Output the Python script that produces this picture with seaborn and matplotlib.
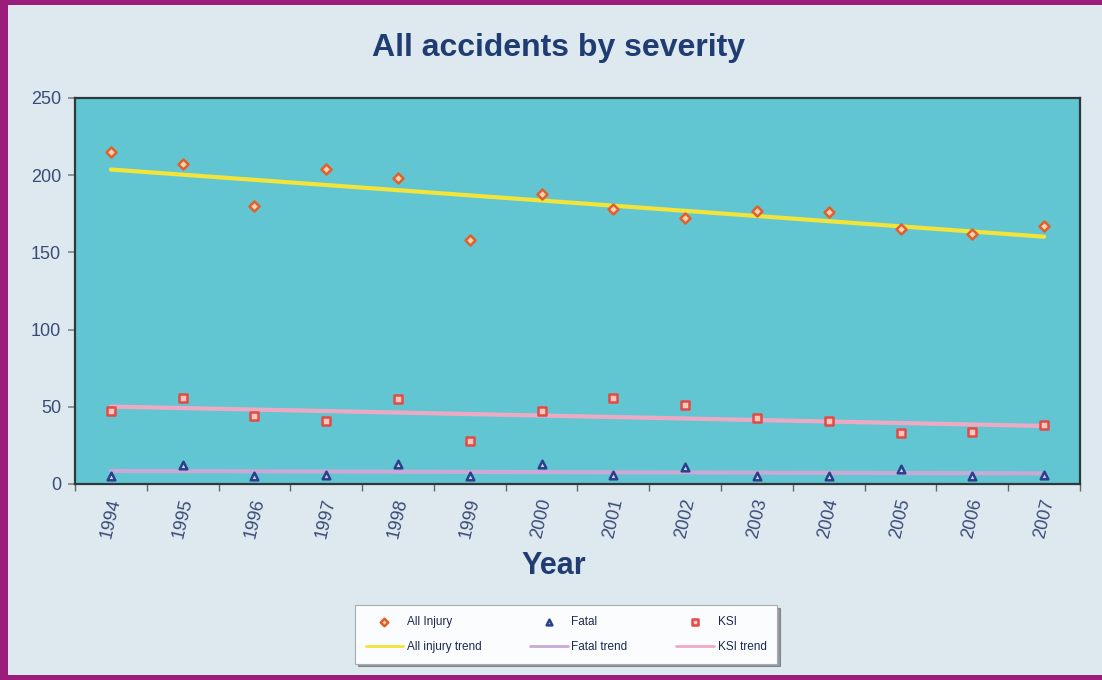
import numpy as np
import pandas as pd
import matplotlib
matplotlib.use("Agg")
import matplotlib.pyplot as plt
import seaborn as sns
from matplotlib.patches import Rectangle

# Yearly accident counts
years = ["1994", "1995", "1996", "1997", "1998", "1999", "2000",
         "2001", "2002", "2003", "2004", "2005", "2006", "2007"]
all_injury = [215, 207, 180, 204, 198, 158, 188, 178, 172, 177, 176, 165, 162, 167]
fatal = [5, 12, 5, 6, 13, 5, 13, 6, 11, 5, 5, 10, 5, 6]
ksi = [47, 56, 44, 41, 55, 28, 47, 56, 51, 43, 41, 33, 34, 38]
y_ticks = [0, 50, 100, 150, 200, 250]

sns.set_theme(style="white")
plt.rcParams["font.family"] = ["Liberation Sans", "DejaVu Sans"]

navy = "#1f3d73"
tick_col = "#3c4a78"
fig_bg = "#dde9ef"

df = pd.DataFrame({"idx": np.arange(len(years)), "year": years,
                   "All Injury": all_injury, "Fatal": fatal, "KSI": ksi})

fig = plt.figure(figsize=(11.02, 6.8), dpi=100, facecolor=fig_bg)
ax = fig.add_axes([75 / 1102, 1 - 484 / 680, 1005 / 1102, 386 / 680])
ax.set_facecolor("#62c6d2")

# Trend lines (least-squares fits)
trend_specs = [("All Injury", "#f2e43a", "All injury trend"),
               ("Fatal", "#c9a9d6", "Fatal trend"),
               ("KSI", "#eeaac4", "KSI trend")]
for col, color, lab in trend_specs:
    sns.regplot(data=df, x="idx", y=col, ax=ax, scatter=False, ci=None,
                truncate=True, label=lab, line_kws=dict(color=color, lw=3))

# Yearly points
point_specs = [("All Injury", "D", "#e0602a", "#f6d2b4", 26),
               ("Fatal", "^", "#2b3f8c", "#c8d4f0", 30),
               ("KSI", "s", "#e44a44", "#f8c8c0", 34)]
for col, marker, edge, face, size in point_specs:
    sns.scatterplot(data=df, x="idx", y=col, ax=ax, marker=marker, s=size,
                    color=face, edgecolor=edge, linewidth=1.8, label=col,
                    zorder=5)

ax.set_xlim(-0.5, len(years) - 0.5)
ax.set_ylim(0, 250)
ax.set_yticks(y_ticks)
ax.set_yticklabels([str(v) for v in y_ticks], fontsize=13, color=tick_col)

# Category axis: labels at centres, tick marks at boundaries
ax.set_xticks(np.arange(len(years)))
ax.set_xticklabels(years, rotation=77, fontsize=13, color=tick_col,
                   ha="center")
ax.set_xticks(np.arange(len(years) + 1) - 0.5, minor=True)
ax.tick_params(axis="x", which="major", length=0, pad=9)
ax.tick_params(axis="x", which="minor", length=5, color="#666666",
               direction="out", bottom=True)
ax.tick_params(axis="y", length=5, color="#888888", direction="out", left=True,
               pad=5)

for sp in ax.spines.values():
    sp.set_color("#2c3a3c")
    sp.set_linewidth(1.6)

ax.set_xlabel("")
ax.set_ylabel("")
fig.text(554 / 1102, 1 - 566 / 680, "Year", ha="center", va="center",
         fontsize=22, fontweight="bold", color=navy)
fig.text(558 / 1102, 1 - 48 / 680, "All accidents by severity", ha="center",
         va="center", fontsize=23, fontweight="bold", color=navy)

# Legend: markers on the first row, trends on the second
handles, labels = ax.get_legend_handles_labels()
lookup = dict(zip(labels, handles))
order = ["All Injury", "All injury trend", "Fatal", "Fatal trend",
         "KSI", "KSI trend"]
if ax.get_legend() is not None:
    ax.get_legend().remove()
leg = fig.legend([lookup[k] for k in order], order, ncol=3, mode="expand",
                 loc="center",
                 bbox_to_anchor=(349 / 1102, 1 - 666 / 680, 434 / 1102, 63 / 680),
                 fontsize=8.5, frameon=True, fancybox=False, shadow=True,
                 handlelength=3.2, handletextpad=0.3, labelspacing=1.1,
                 borderpad=0.9, markerscale=0.75)
leg.get_frame().set_facecolor("#fbfcfd")
leg.get_frame().set_edgecolor("#a8acb0")
leg.get_frame().set_linewidth(0.8)
for t in leg.get_texts():
    t.set_color("#1c2a50")
for h in leg.legend_handles:
    if hasattr(h, "set_linewidth") and not hasattr(h, "get_offsets"):
        h.set_linewidth(2)

# Outer frame: magenta band on the left, top and bottom edges
frame_col = "#9c1c7c"
for (x0, y0, w, h) in [(0, 0, 8 / 1102, 1), (0, 1 - 5 / 680, 1, 5 / 680),
                       (0, 0, 1, 5 / 680)]:
    fig.patches.append(Rectangle((x0, y0), w, h, transform=fig.transFigure,
                                 facecolor=frame_col, edgecolor="none",
                                 zorder=10))

fig.savefig("out.png", dpi=100, facecolor=fig_bg)
